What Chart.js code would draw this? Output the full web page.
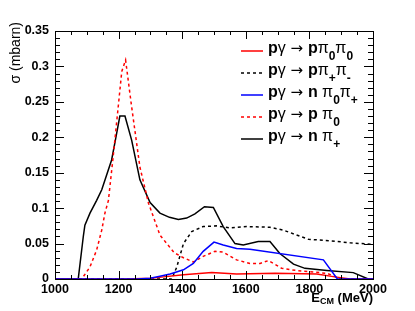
<!DOCTYPE html>
<html>
<head>
<meta charset="utf-8">
<script src="https://cdn.jsdelivr.net/npm/chart.js@4.4.1/dist/chart.umd.min.js"></script>
<style>
html,body{margin:0;padding:0;background:#fff;}
canvas{display:block;}
</style>
</head>
<body>
<canvas id="c" width="415" height="311" style="width:415px;height:311px"></canvas>
<script>
// ---- data ----
const energyPPi0Pi0 = [1000,1225,1299,1341,1404,1493,1571,1692,1823,1880,1928,2000];
const sigmaPPi0Pi0  = [0,0,0.001,0.003,0.006,0.009,0.007,0.008,0.007,0.003,0,0];

const energyPPipPim = [1000,1367,1383,1404,1430,1466,1508,1550,1603,1676,1718,1797,1865,1928,2000];
const sigmaPPipPim  = [0,0,0.017,0.050,0.067,0.074,0.075,0.072,0.074,0.073,0.069,0.056,0.054,0.051,0.049];

const energyNPi0Pip = [1000,1260,1299,1330,1362,1404,1435,1466,1500,1529,1571,1613,1844,1888,2000];
const sigmaNPi0Pip  = [0,0,0.001,0.004,0.007,0.013,0.022,0.039,0.052,0.048,0.043,0.042,0.027,0,0];

const energyPPi0 = [1000,1084,1110,1131,1147,1157,1168,1183,1197,1210,1222,1241,1267,1294,1330,1375,1404,1435,1466,1503,1529,1571,1613,1645,1671,1713,1760,1855,1900,2000];
const sigmaPPi0  = [0,0,0.017,0.041,0.069,0.093,0.111,0.173,0.235,0.293,0.309,0.243,0.158,0.107,0.062,0.037,0.030,0.024,0.032,0.039,0.038,0.027,0.022,0.022,0.026,0.015,0.012,0.008,0,0];

const energyNPip = [1000,1073,1089,1094,1110,1131,1147,1178,1189,1204,1220,1241,1267,1299,1330,1360,1388,1414,1440,1470,1498,1529,1566,1592,1639,1676,1707,1750,1786,1855,1938,1985,2000];
const sigmaNPip  = [0,0,0.060,0.076,0.093,0.111,0.126,0.168,0.194,0.230,0.230,0.196,0.140,0.108,0.093,0.087,0.084,0.086,0.092,0.102,0.101,0.074,0.050,0.048,0.053,0.053,0.036,0.021,0.015,0.012,0.009,0,0];

const xTickLabels = [1000,1200,1400,1600,1800,2000];
const yTickLabels = [0,0.05,0.1,0.15,0.2,0.25,0.3,0.35];

// legend markup: [text, style]  b = bold, s = subscript, a = arrow, '' = normal
const legendLabels = [
  [['p','b'],['γ',''],[' → ','a'],['p','b'],['π',''],['0','s'],['π',''],['0','s']],
  [['p','b'],['γ',''],[' → ','a'],['p','b'],['π',''],['+','s'],['π',''],['-','s']],
  [['p','b'],['γ',''],[' → ','a'],['n','b'],[' π',''],['0','s'],['π',''],['+','s']],
  [['p','b'],['γ',''],[' → ','a'],['p','b'],[' π',''],['0','s']],
  [['p','b'],['γ',''],[' → ','a'],['n','b'],[' π',''],['+','s']]
];

function pts(xs, ys){ return xs.map((x,i)=>({x:x, y:ys[i]})); }

const FONT = '"Liberation Sans", Arial, Helvetica, sans-serif';

const datasets = [
  {label:'pγ → nπ0π+', data:pts(energyNPi0Pip,sigmaNPi0Pip), borderColor:'#0000ff', borderDash:[], order:0},
  {label:'pγ → pπ0π0', data:pts(energyPPi0Pi0,sigmaPPi0Pi0), borderColor:'#ff0000', borderDash:[], order:1},
  {label:'pγ → pπ+π-', data:pts(energyPPipPim,sigmaPPipPim), borderColor:'#000000', borderDash:[3,3], order:2},
  {label:'pγ → pπ0', data:pts(energyPPi0,sigmaPPi0), borderColor:'#ff0000', borderDash:[3,3], order:3},
  {label:'pγ → nπ+', data:pts(energyNPip,sigmaNPip), borderColor:'#000000', borderDash:[], order:4}
].map(d=>Object.assign(d,{showLine:true, pointRadius:0, borderWidth:1.5, tension:0, fill:false}));

const legendStyles = [
  {color:'#ff0000', dash:[]},
  {color:'#000000', dash:[3,3]},
  {color:'#0000ff', dash:[]},
  {color:'#ff0000', dash:[3,3]},
  {color:'#000000', dash:[]}
];

const decor = {
  id:'decor',
  afterDraw(chart){
    const ctx = chart.ctx, a = chart.chartArea;
    const xs = chart.scales.x, ys = chart.scales.y;
    ctx.save();
    ctx.strokeStyle = '#000'; ctx.lineWidth = 1; ctx.setLineDash([]);
    // frame
    ctx.strokeRect(Math.round(a.left)+0.5, Math.round(a.top)+0.5, Math.round(a.right-a.left), Math.round(a.bottom-a.top));
    ctx.beginPath();
    for (let v=1000; v<=2000; v+=50){
      const px = Math.round(xs.getPixelForValue(v))+0.5;
      const len = (v%200===0)?8:4;
      ctx.moveTo(px, a.bottom); ctx.lineTo(px, a.bottom-len);
      ctx.moveTo(px, a.top); ctx.lineTo(px, a.top+len);
    }
    for (let i=0; i<=35; i++){
      const py = Math.round(ys.getPixelForValue(i/100))+0.5;
      const len = (i%5===0)?9:5;
      ctx.moveTo(a.left, py); ctx.lineTo(a.left+len, py);
      ctx.moveTo(a.right, py); ctx.lineTo(a.right-len, py);
    }
    ctx.stroke();

    // y title
    ctx.save();
    ctx.translate(16, 22);
    ctx.rotate(-Math.PI/2);
    ctx.fillStyle='#000';
    ctx.font = '14px '+FONT;
    ctx.textAlign='right'; ctx.textBaseline='middle';
    ctx.fillText('σ (mbarn)', 0, 0);
    ctx.restore();

    // x title E_CM (MeV), right aligned to frame
    ctx.fillStyle='#000';
    ctx.textBaseline='middle';
    ctx.textAlign='left';
    const fMain = 'bold 13px '+FONT, fSub = 'bold 9px '+FONT;
    ctx.font=fMain; const wE = ctx.measureText('E').width; const wM = ctx.measureText(' (MeV)').width;
    ctx.font=fSub; const wC = ctx.measureText('CM').width;
    let x0 = a.right - (wE+wC+wM);
    ctx.font=fMain; ctx.fillText('E', x0, 298); x0+=wE;
    ctx.font=fSub; ctx.fillText('CM', x0, 302); x0+=wC;
    ctx.font=fMain; ctx.fillText(' (MeV)', x0, 298);

    // legend
    legendLabels.forEach((parts, i)=>{
      const y = 51 + 22*i;
      const st = legendStyles[i];
      ctx.strokeStyle = st.color; ctx.lineWidth=1.5; ctx.setLineDash(st.dash);
      ctx.beginPath(); ctx.moveTo(241, y); ctx.lineTo(263, y); ctx.stroke();
      ctx.setLineDash([]);
      let x = 268;
      parts.forEach(([t, s])=>{
        let yy = y-2;
        if (s==='s'){ ctx.font = 'bold 12px '+FONT; yy = y+6; }
        else if (s==='b'){ ctx.font = 'bold 16px '+FONT; }
        else if (s==='a'){ ctx.font = '15px "DejaVu Sans", sans-serif'; }
        else { ctx.font = '16px '+FONT; }
        ctx.fillStyle='#000';
        ctx.fillText(t, x, yy);
        x += ctx.measureText(t).width;
      });
    });
    ctx.restore();
  }
};

new Chart(document.getElementById('c'), {
  type:'scatter',
  data:{datasets:datasets},
  options:{
    responsive:false,
    animation:false,
    devicePixelRatio:1,
    layout:{padding:{top:31, right:42, left:0, bottom:0}},
    plugins:{legend:{display:false}, tooltip:{enabled:false}},
    scales:{
      x:{
        type:'linear', min:1000, max:2000,
        afterBuildTicks(s){ s.ticks = xTickLabels.map(v=>({value:v})); },
        afterFit(s){ s.height = 32; },
        ticks:{autoSkip:false, maxRotation:0, padding:3, color:'#000', font:{family:FONT, weight:'bold', size:12.5}, callback:v=>String(v)},
        grid:{display:false, drawTicks:false}, border:{display:false}
      },
      y:{
        min:0, max:0.35,
        afterBuildTicks(s){ s.ticks = yTickLabels.map(v=>({value:v})); },
        afterFit(s){ s.width = 55; },
        ticks:{autoSkip:false, padding:6, color:'#000', font:{family:FONT, weight:'bold', size:12.5}, callback:v=>String(+(+v).toFixed(2))},
        grid:{display:false, drawTicks:false}, border:{display:false}
      }
    }
  },
  plugins:[decor]
});
</script>
</body>
</html>
